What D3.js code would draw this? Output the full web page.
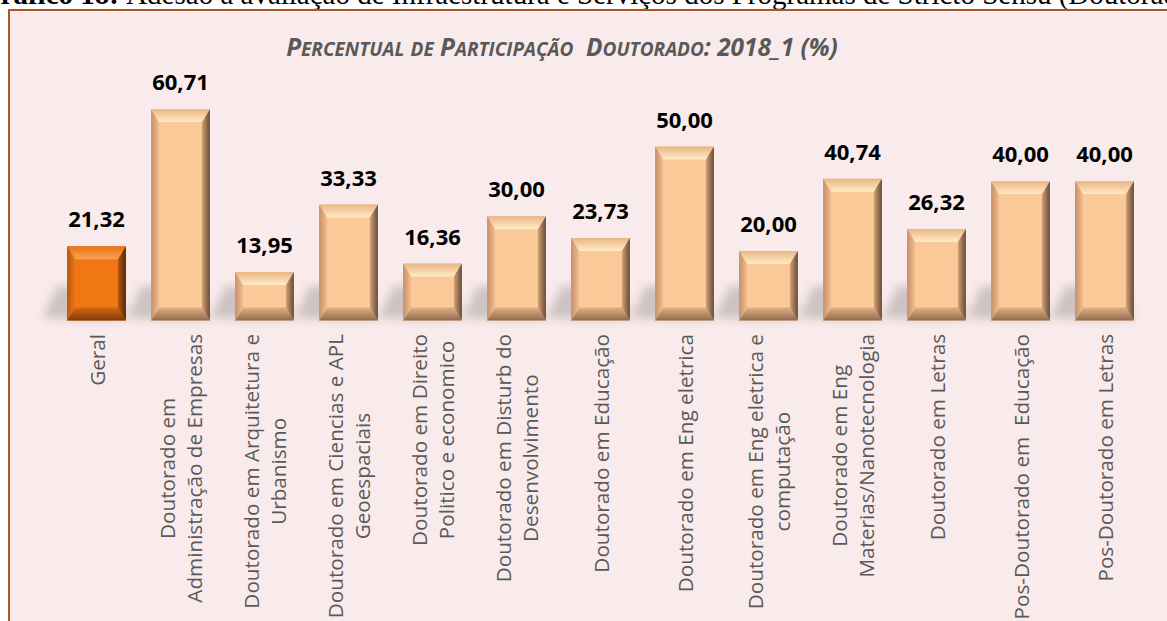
<!DOCTYPE html>
<html>
<head>
<meta charset="utf-8">
<title>Percentual de Participação Doutorado 2018_1</title>
<script src="https://cdn.jsdelivr.net/npm/d3@7"></script>
<style>
	body { margin: 0; background: #ffffff; }
	svg { display: block; }
</style>
</head>
<body>
<div id="chart"></div>
<script>
	const categories = [
		"Geral",
		"Doutorado em\nAdministração de Empresas",
		"Doutorado em Arquitetura e\nUrbanismo",
		"Doutorado em Ciencias e APL\nGeoespaciais",
		"Doutorado em Direito\nPolitico e economico",
		"Doutorado em Disturb do\nDesenvolvimento",
		"Doutorado em Educação",
		"Doutorado em Eng eletrica",
		"Doutorado em Eng eletrica e\ncomputação",
		"Doutorado em Eng\nMaterias/Nanotecnologia",
		"Doutorado em Letras",
		"Pos-Doutorado em  Educação",
		"Pos-Doutorado em Letras"
	];
	const values = [21.32, 60.71, 13.95, 33.33, 16.36, 30.00, 23.73, 50.00, 20.00, 40.74, 26.32, 40.00, 40.00];
	const highlighted = ["Geral"];
	const yDomain = [0, 70];
	const chartTitle = "Percentual de Participação  Doutorado: 2018_1 (%)";
	const pageCaption = ["Gráfico 18: ", "Adesão à avaliação de Infraestrutura e Serviços dos Programas de Stricto Sensu (Doutorado)"];

	const width = 1167, height = 621;
	const plot = {left: 54.5, right: 1146.5, top: 77, bottom: 320.5};

	const svg = d3.select("#chart").append("svg")
		.attr("width", width)
		.attr("height", height);

	// page caption, cut off by the top of the screenshot
	const cap = svg.append("text")
		.attr("x", -22)
		.attr("y", 4)
		.attr("font-family", "Liberation Serif")
		.attr("font-size", 29)
		.attr("fill", "#000");
	cap.append("tspan").attr("font-weight", "bold").text(pageCaption[0]);
	cap.append("tspan").text(pageCaption[1]);

	// chart box
	svg.append("rect")
		.attr("x", 9).attr("y", 10)
		.attr("width", width + 20).attr("height", height + 20)
		.attr("fill", "#f9ebeb")
		.attr("stroke", "#a8562a")
		.attr("stroke-width", 2);

	const defs = svg.append("defs");

	defs.append("filter").attr("id", "blur")
		.attr("x", "-50%").attr("y", "-50%").attr("width", "200%").attr("height", "200%")
		.append("feGaussianBlur").attr("stdDeviation", 5);

	// bevel palettes: [outer, inner]
	const palettes = {
		peach: {face: "#fbc898", top: ["#eab584", "#ffecc9"], left: ["#c48f66", "#f3bf8f"], right: ["#634a37", "#d6a275"], bottom: ["#8f6a4d", "#e4b084"]},
		orange: {face: "#f07714", top: ["#e3731a", "#fba452"], left: ["#b8560b", "#ec7616"], right: ["#552703", "#bb5a0f"], bottom: ["#7e3a07", "#d66810"]}
	};

	const gradDirs = {
		top: {x1: 0, y1: 0, x2: 0, y2: 1},
		bottom: {x1: 0, y1: 1, x2: 0, y2: 0},
		left: {x1: 0, y1: 0, x2: 1, y2: 0},
		right: {x1: 1, y1: 0, x2: 0, y2: 0}
	};

	Object.entries(palettes).forEach(([name, pal]) => {
		Object.entries(gradDirs).forEach(([side, dir]) => {
			const g = defs.append("linearGradient")
				.attr("id", `${name}-${side}`)
				.attr("x1", dir.x1).attr("y1", dir.y1)
				.attr("x2", dir.x2).attr("y2", dir.y2);
			g.append("stop").attr("offset", 0).attr("stop-color", pal[side][0]);
			g.append("stop").attr("offset", 1).attr("stop-color", pal[side][1]);
		});
	});

	const x = d3.scaleBand()
		.domain(categories)
		.range([plot.left, plot.right])
		.paddingInner(0.3)
		.paddingOuter(0.15);

	const y = d3.scaleLinear()
		.domain(yDomain)
		.range([plot.bottom, plot.top]);

	const fmt = d3.formatLocale({decimal: ",", thousands: ".", grouping: [3], currency: ["R$", ""]}).format(".2f");

	const data = categories.map((c, i) => ({cat: c, value: values[i], pal: highlighted.includes(c) ? "orange" : "peach"}));

	// soft shadows behind the bars
	svg.append("g").selectAll("path")
		.data(data)
		.join("path")
		.attr("d", d => {
			const x0 = x(d.cat), x1 = x0 + x.bandwidth();
			const yb = y(0), yt = Math.max(y(d.value), yb - 34);
			return `M${x0 + 4},${yb - 1} L${x0 - 24},${yb - 3} L${x0 - 10},${yt} L${x1 - 10},${yt} L${x1},${yb - 1} Z`;
		})
		.attr("fill", "#8a8080")
		.attr("opacity", 0.38)
		.attr("filter", "url(#blur)");

	// bevelled bars
	const bars = svg.append("g").selectAll("g")
		.data(data)
		.join("g");

	const bvTop = 13, bvSide = 8;

	bars.append("rect")
		.attr("x", d => x(d.cat))
		.attr("y", d => y(d.value))
		.attr("width", x.bandwidth())
		.attr("height", d => y(0) - y(d.value))
		.attr("fill", d => palettes[d.pal].face);

	const sides = {
		top: (a, b, t, u) => [[a, t], [b, t], [b - bvSide, t + bvTop], [a + bvSide, t + bvTop]],
		bottom: (a, b, t, u) => [[a, u], [b, u], [b - bvSide, u - bvTop], [a + bvSide, u - bvTop]],
		left: (a, b, t, u) => [[a, t], [a + bvSide, t + bvTop], [a + bvSide, u - bvTop], [a, u]],
		right: (a, b, t, u) => [[b, t], [b - bvSide, t + bvTop], [b - bvSide, u - bvTop], [b, u]]
	};

	Object.entries(sides).forEach(([side, fn]) => {
		bars.append("polygon")
			.attr("points", d => {
				const a = x(d.cat), b = a + x.bandwidth();
				return fn(a, b, y(d.value), y(0)).map(p => p.join(",")).join(" ");
			})
			.attr("fill", d => `url(#${d.pal}-${side})`);
	});

	// value labels
	svg.append("g").selectAll("text")
		.data(data)
		.join("text")
		.attr("x", d => x(d.cat) + x.bandwidth() / 2)
		.attr("y", d => y(d.value) - 19)
		.attr("text-anchor", "middle")
		.attr("font-family", "Open Sans")
		.attr("font-weight", "bold")
		.attr("font-size", 22)
		.attr("fill", "#000")
		.text(d => fmt(d.value));

	// category labels, rotated, lines centred on each other
	const lineHeight = 27;
	const labels = svg.append("g").selectAll("text")
		.data(data)
		.join("text")
		.attr("font-family", "Open Sans")
		.attr("font-size", 20.7)
		.attr("fill", "#595959")
		.attr("text-anchor", "middle")
		.style("white-space", "pre");

	labels.each(function (d) {
		const t = d3.select(this);
		const lines = d.cat.split("\n");
		lines.forEach((ln, i) => {
			t.append("tspan")
				.attr("x", 0)
				.attr("y", (i - (lines.length - 1) / 2) * lineHeight + 8)
				.text(ln);
		});
		let maxW = 0;
		t.selectAll("tspan").each(function () { maxW = Math.max(maxW, this.getComputedTextLength()); });
		t.selectAll("tspan").attr("x", -maxW / 2);
		t.attr("transform", `translate(${x(d.cat) + x.bandwidth() / 2},334) rotate(-90)`);
	});

	// title in small caps: capitals/digits full size, lower case letters as smaller capitals
	const titleSize = 24.4, smallRatio = 0.78;
	const runs = [];
	for (const ch of chartTitle) {
		const small = ch !== ch.toUpperCase();
		const last = runs[runs.length - 1];
		if (last && last.small === small) last.text += ch;
		else runs.push({small: small, text: ch});
	}
	const title = svg.append("text")
		.attr("x", 562)
		.attr("y", 56)
		.attr("text-anchor", "middle")
		.attr("font-family", "Open Sans")
		.attr("font-weight", "bold")
		.attr("font-style", "italic")
		.attr("fill", "#595959")
		.style("white-space", "pre");
	title.selectAll("tspan")
		.data(runs)
		.join("tspan")
		.attr("font-size", r => r.small ? titleSize * smallRatio : titleSize)
		.text(r => r.small ? r.text.toUpperCase() : r.text);
</script>
</body>
</html>
